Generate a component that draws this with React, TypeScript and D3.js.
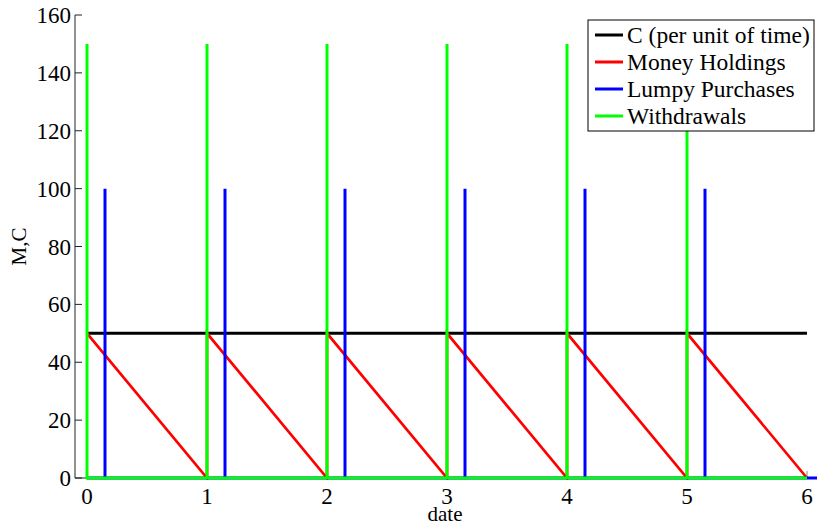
import React from "react";
import * as d3 from "d3";

const periods = [0, 1, 2, 3, 4, 5];
const consumptionLevel = 50;
const withdrawalSize = 150;
const purchaseSize = 100;
const purchaseOffset = 0.15;
const moneyStart = 50;
const xTicks = [0, 1, 2, 3, 4, 5, 6];
const yTicks = [0, 20, 40, 60, 80, 100, 120, 140, 160];
const legendLabels = ["C (per unit of time)", "Money Holdings", "Lumpy Purchases", "Withdrawals"];
const legendColors = ["#000000", "#ff0000", "#0000ff", "#00ff00"];

const W = 817, H = 523;
const x = d3.scaleLinear().domain([-0.1, 6.1]).range([75, 819]);
const y = d3.scaleLinear().domain([0, 160]).range([478, 15]);

type P = [number, number];
const cLine: P[] = [[0, consumptionLevel], [6, consumptionLevel]];
const money: P[] = [];
periods.forEach((p) => { money.push([p, moneyStart]); money.push([p + 1, 0]); });
const purchases: P[] = [[0, 0]];
periods.forEach((p) => {
  purchases.push([p + purchaseOffset, 0]);
  purchases.push([p + purchaseOffset, purchaseSize]);
  purchases.push([p + purchaseOffset, 0]);
});
purchases.push([6.2, 0]);
const withdrawals: P[] = [];
periods.forEach((p) => {
  withdrawals.push([p, 0]);
  withdrawals.push([p, withdrawalSize]);
  withdrawals.push([p, 0]);
});
withdrawals.push([6, 0]);

const line = d3.line<P>().x((d) => x(d[0])).y((d) => y(d[1]));

export default function App() {
  const font = "'Liberation Serif', 'Times New Roman', Times, serif";
  return (
    <svg width={W} height={H} style={{ position: "absolute", left: 0, top: 0, background: "#fff" }} fontFamily={font}>
      <defs>
        <clipPath id="clip"><rect x={75} y={0} width={W - 75} height={480} /></clipPath>
      </defs>
      <line x1={75} x2={75} y1={y(160)} y2={y(0)} stroke="#222" strokeWidth={1} />
      <line x1={75} x2={W} y1={y(0)} y2={y(0)} stroke="#222" strokeWidth={1} />
      {yTicks.map((t) => (
        <g key={"y" + t}>
          <line x1={75} x2={82} y1={y(t)} y2={y(t)} stroke="#222" strokeWidth={1} />
          <text x={71} y={y(t)} dy="0.35em" textAnchor="end" fontSize={23}>{t}</text>
        </g>
      ))}
      {xTicks.map((t) => (
        <g key={"x" + t}>
          <line x1={x(t)} x2={x(t)} y1={y(0)} y2={y(0) - 7} stroke="#888" strokeWidth={1} />
          <text x={x(t)} y={496} dy="0.35em" textAnchor="middle" fontSize={23}>{t}</text>
        </g>
      ))}
      <text x={445} y={514} dy="0.35em" textAnchor="middle" fontSize={21}>date</text>
      <text transform={`translate(19,${y(80)}) rotate(-90)`} dy="0.35em" textAnchor="middle" fontSize={21}>M,C</text>
      <g clipPath="url(#clip)" fill="none">
        <path d={line(cLine)!} stroke={legendColors[0]} strokeWidth={3} />
        <path d={line(money)!} stroke={legendColors[1]} strokeWidth={2.7} />
        <path d={line(purchases)!} stroke={legendColors[2]} strokeWidth={3} />
        <path d={line(withdrawals)!} stroke={legendColors[3]} strokeWidth={3} />
      </g>
      <g>
        <rect x={588} y={20} width={226} height={111} fill="#fff" stroke="#000" strokeWidth={1} />
        {legendLabels.map((l, i) => (
          <g key={l} transform={`translate(0,${35 + i * 27})`}>
            <line x1={595} x2={623} y1={0} y2={0} stroke={legendColors[i]} strokeWidth={3} />
            <text x={627} y={0} dy="0.35em" fontSize={23.5}>{l}</text>
          </g>
        ))}
      </g>
    </svg>
  );
}
